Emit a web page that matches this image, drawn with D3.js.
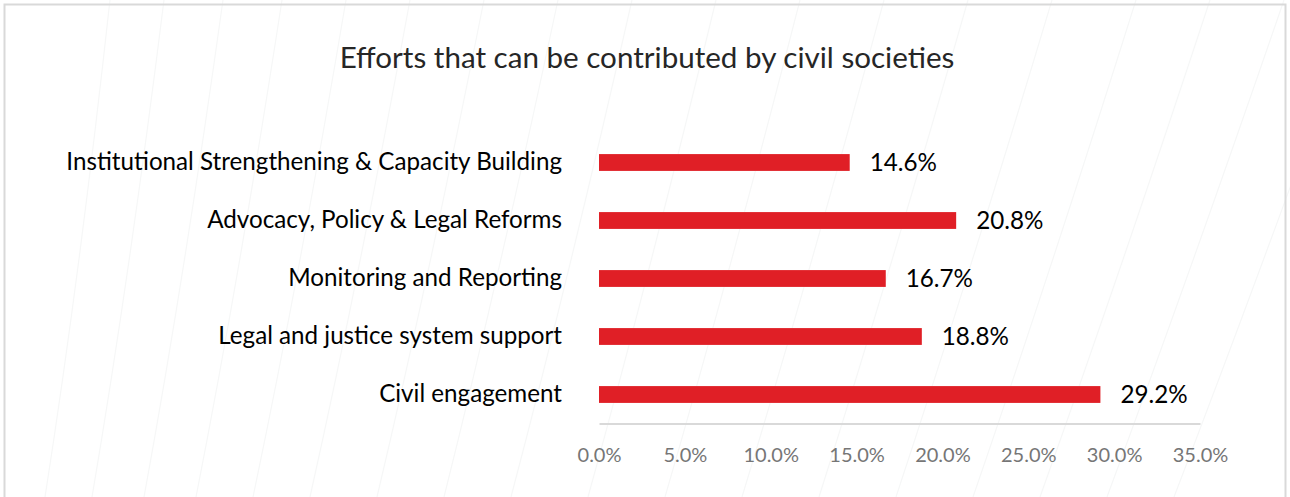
<!DOCTYPE html>
<html>
<head>
<meta charset="utf-8">
<script src="https://cdn.jsdelivr.net/npm/d3@7"></script>
<style>
  html, body { margin: 0; padding: 0; background: #fff; }
  svg { display: block; }
  text { font-family: "Lato", "Open Sans", sans-serif; }
</style>
</head>
<body>
<svg id="chart" width="1290" height="497"></svg>
<script>
// Share of respondents naming each contribution area
const categories = [
  "Institutional Strengthening & Capacity Building",
  "Advocacy, Policy & Legal Reforms",
  "Monitoring and Reporting",
  "Legal and justice system support",
  "Civil engagement"
];
const values = [14.6, 20.8, 16.7, 18.8, 29.2];
const tickValues = [0, 5, 10, 15, 20, 25, 30, 35];
const title = "Efforts that can be contributed by civil societies";

const W = 1290, H = 497;
const svg = d3.select("#chart");

// faint decorative sweep lines in the background
const bg = svg.append("g");
const sweeps = [70, 120, 175, 230, 290, 350, 420, 490, 560, 640, 720, 800, 880, 960, 1040, 1110, 1180, 1250];
sweeps.forEach((s, i) => {
  const top = s + 40 + i * 4;
  bg.append("path")
    .attr("d", `M${top},0 Q${s + 10},${H * 0.55} ${s - 25 - i * 3},${H}`)
    .attr("fill", "none")
    .attr("stroke", "#f6f7f7")
    .attr("stroke-width", 1.2);
});

// chart frame
svg.append("rect")
  .attr("x", 4.5).attr("y", 4.5)
  .attr("width", 1281).attr("height", 520)
  .attr("fill", "none")
  .attr("stroke", "#d9d9d9")
  .attr("stroke-width", 2);

const x = d3.scaleLinear().domain([0, 35]).range([599, 1200]);
const y = d3.scaleBand().domain(categories).range([133.5, 423.5]).paddingInner(0.71).paddingOuter(0.355);

// fit a text node to a target width by adjusting font size
function fitWidth(sel, target) {
  const node = sel.node();
  const fs = parseFloat(sel.attr("font-size"));
  const w = node.getComputedTextLength();
  sel.attr("font-size", (fs * target / w).toFixed(2));
}

// title
const t = svg.append("text")
  .attr("x", 647).attr("y", 68)
  .attr("text-anchor", "middle")
  .attr("font-size", 26)
  .attr("fill", "#262626")
  .text(title);
fitWidth(t, 615);

// bars
svg.append("g").selectAll("rect")
  .data(values)
  .join("rect")
  .attr("x", x(0))
  .attr("y", (d, i) => y(categories[i]))
  .attr("width", d => x(d) - x(0))
  .attr("height", y.bandwidth())
  .attr("fill", "#e01f26");

// category labels
const labG = svg.append("g");
const probe = labG.append("text").attr("font-size", 22).text(categories[0]);
const labelSize = 22 * 496 / probe.node().getComputedTextLength();
probe.remove();
labG.selectAll("text")
  .data(categories)
  .join("text")
  .attr("x", 562)
  .attr("y", d => y(d) + y.bandwidth() / 2 - 1)
  .attr("dy", "0.35em")
  .attr("text-anchor", "end")
  .attr("font-size", labelSize)
  .attr("fill", "#000")
  .text(d => d);

// value labels
svg.append("g").selectAll("text")
  .data(values)
  .join("text")
  .attr("x", d => x(d) + 20)
  .attr("y", (d, i) => y(categories[i]) + y.bandwidth() / 2)
  .attr("dy", "0.35em")
  .attr("font-size", labelSize)
  .attr("fill", "#000")
  .text(d => d.toFixed(1) + "%");

// value axis
const axis = d3.axisBottom(x)
  .tickValues(tickValues)
  .tickSize(0)
  .tickPadding(24)
  .tickFormat(d => d.toFixed(1) + "%");
const ax = svg.append("g")
  .attr("transform", "translate(0,423.5)")
  .call(axis);
ax.select(".domain").attr("stroke", "#d9d9d9").attr("stroke-width", 2);
ax.selectAll(".tick text")
  .attr("font-size", 20)
  .attr("font-family", "Lato, sans-serif")
  .attr("fill", "#767676");
</script>
</body>
</html>
